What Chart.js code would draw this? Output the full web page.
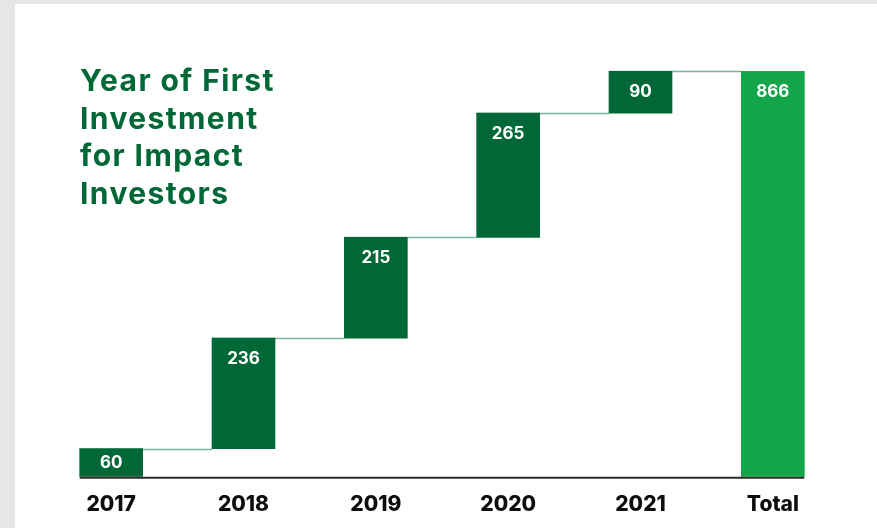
<!DOCTYPE html>
<html lang="en">
<head>
    <meta charset="UTF-8">
    <title>Year of First Investment for Impact Investors</title>
    <script src="https://cdn.jsdelivr.net/npm/chart.js"></script>
    <style>
        html, body { margin: 0; padding: 0; background: #e6e6e6; overflow: hidden; }
        #panel { position: absolute; left: 15px; top: 4px; width: 862px; height: 524px; background: #fff; }
        #wrap { position: absolute; left: 0; top: 0; width: 877px; height: 528px; }
        #titulo {
            position: absolute; left: 80px; top: 62px;
            font-family: Inter, "DejaVu Sans", sans-serif; font-weight: 700;
            font-size: 30px; line-height: 37.7px; letter-spacing: 1.4px; color: #006837;
        }
    </style>
</head>
<body>
    <div id="panel"></div>
    <div id="wrap"><canvas id="grafico" width="877" height="528"></canvas></div>
    <div id="titulo">Year of First<br>Investment<br>for Impact<br>Investors</div>

    <script>
        // datos
        const categorias = ['2017', '2018', '2019', '2020', '2021', 'Total'];
        const incrementos = [60, 236, 215, 265, 90];
        const total = 866;

        // barras flotantes: [inicio, fin]
        let acumulado = 0;
        const barras = incrementos.map(v => {
            const par = [acumulado, acumulado + v];
            acumulado += v;
            return par;
        });
        barras.push([0, total]);
        const etiquetas = incrementos.concat([total]);
        const colores = categorias.map(c => c === 'Total' ? '#13a54a' : '#006837');

        const conectores = {
            id: 'conectores',
            beforeDatasetsDraw(chart) {
                const ctx = chart.ctx;
                const meta = chart.getDatasetMeta(0);
                const y = chart.scales.y;
                ctx.save();
                ctx.strokeStyle = '#7db596';
                ctx.lineWidth = 1.5;
                for (let i = 0; i < meta.data.length - 1; i++) {
                    const a = meta.data[i], b = meta.data[i + 1];
                    const py = Math.round(y.getPixelForValue(barras[i][1])) + 0.5;
                    ctx.beginPath();
                    ctx.moveTo(a.x - a.width / 2, py);
                    ctx.lineTo(b.x - b.width / 2, py);
                    ctx.stroke();
                }
                ctx.restore();
            },
            afterDatasetsDraw(chart) {
                const ctx = chart.ctx;
                const meta = chart.getDatasetMeta(0);
                const base = chart.scales.y.getPixelForValue(0);
                ctx.save();
                // linea del eje
                const first = meta.data[0], last = meta.data[meta.data.length - 1];
                ctx.strokeStyle = '#2b2b2b';
                ctx.lineWidth = 2;
                ctx.beginPath();
                ctx.moveTo(first.x - first.width / 2, base + 1);
                ctx.lineTo(last.x + last.width / 2, base + 1);
                ctx.stroke();
                // valores
                ctx.fillStyle = '#ffffff';
                ctx.font = '700 17px Inter, "DejaVu Sans", sans-serif';
                ctx.textAlign = 'center';
                ctx.textBaseline = 'middle';
                meta.data.forEach((bar, i) => {
                    const top = Math.min(bar.y, bar.base), bottom = Math.max(bar.y, bar.base);
                    const ty = Math.min(top + 21, (top + bottom) / 2);
                    ctx.fillText(String(etiquetas[i]), bar.x, ty);
                });
                ctx.restore();
            }
        };

        new Chart(document.getElementById('grafico'), {
            type: 'bar',
            data: {
                labels: categorias,
                datasets: [{
                    data: barras,
                    backgroundColor: colores,
                    borderWidth: 0,
                    barThickness: 63,
                    borderSkipped: false
                }]
            },
            options: {
                responsive: false,
                animation: false,
                layout: { padding: { left: 45, right: 38, top: 71, bottom: -4 } },
                plugins: { legend: { display: false }, tooltip: { enabled: false } },
                scales: {
                    x: {
                        offset: true,
                        grid: { display: false, drawTicks: false },
                        border: { display: false },
                        ticks: {
                            color: '#0d0d0d',
                            padding: 15,
                            font: { family: 'Inter, "DejaVu Sans", sans-serif', size: 21, weight: '800' }
                        }
                    },
                    y: {
                        display: false,
                        min: 0,
                        max: total
                    }
                }
            },
            plugins: [conectores]
        });
    </script>
</body>
</html>
